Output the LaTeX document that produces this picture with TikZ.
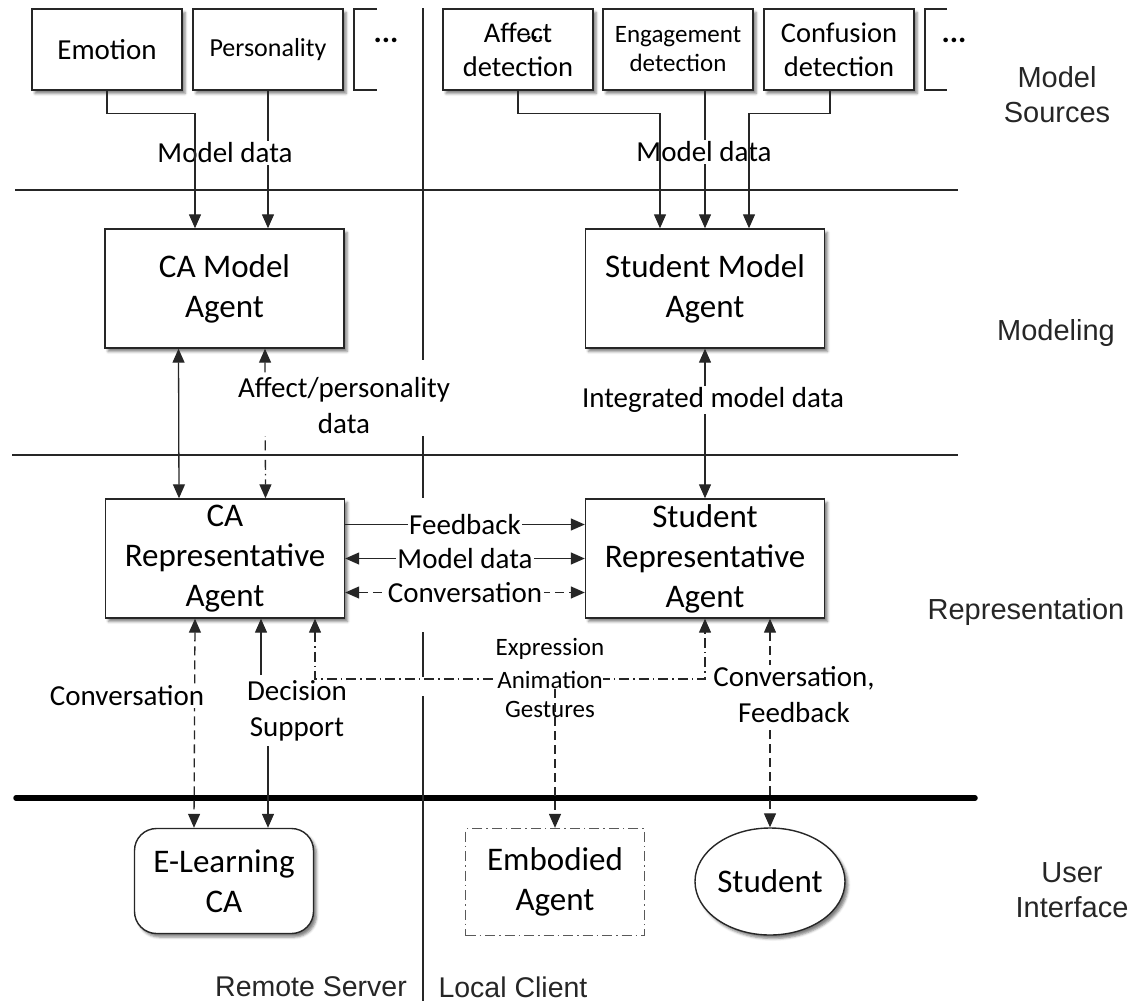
\documentclass[tikz,border=0pt]{standalone}
\usepackage{fontspec}
\setmainfont{Carlito}
\newfontfamily\sidefont{Liberation Sans}
\usetikzlibrary{arrows.meta,shadows.blur,shapes.geometric}
\newcommand{\fsz}[2]{\fontsize{#1}{#2}\selectfont}

\begin{document}
\begin{tikzpicture}[x=1pt,y=-1pt,
  line/.style={draw=black!85, line width=1.3pt},
  arr/.style={line, -{Triangle[length=14pt,width=12pt]}},
  darr/.style={line, {Triangle[length=14pt,width=12pt]}-{Triangle[length=14pt,width=12pt]}},
  dsh/.style={dash pattern=on 9pt off 5pt},
  ddot/.style={dash pattern=on 10pt off 4pt on 1.5pt off 4pt},
  boxshadow/.style={blur shadow={shadow xshift=3pt,shadow yshift=-3.5pt,shadow blur radius=2.5pt,shadow opacity=50}},
  src/.style={draw=black!85, line width=1.4pt, fill=white, minimum width=150pt,
              minimum height=81pt, inner sep=0pt, align=center, boxshadow},
  agent/.style={src, minimum width=239pt, minimum height=119pt, font=\fsz{33}{40}},
  lab/.style={fill=white, inner sep=1.5pt, align=center, font=\fsz{29}{36}},
  small/.style={inner sep=0.5pt, align=center, font=\fsz{25}{30}},
  side/.style={align=center, font=\sidefont\fsz{29}{35}, text=black!85}
]
\useasboundingbox (0,0) rectangle (1135,1001);

% layer separators and the server/client divider
\draw[line] (15,190) -- (958,190);
\draw[line] (12,455) -- (958,455);
\draw[line width=5.5pt, line cap=round] (16,798) -- (975,798);
\draw[line] (423,8) -- (423,360);
\draw[line] (423,430) -- (423,498);
\draw[line] (423,632) -- (423,677);
\draw[line] (423,696) -- (423,1001);

% model sources
\node[src, font=\fsz{29}{35}] (emo) at (107,49.5) {Emotion};
\node[src, font=\fsz{26}{31}] (pers) at (268,49.5) {Personality};
\draw[line] (377,9) -- (354,9) -- (354,90) -- (377,90);
\node[font=\fsz{31}{35}\bfseries] (dotsA) at (386,40) {...};

\node[src, font=\fsz{28.5}{34}] (aff) at (518,49.5) {Affect\\detection};
\node[font=\fsz{22}{26}\bfseries] (dotsB) at (535,38) {...};
\node[src, font=\fsz{25}{29}] (eng) at (678,49.5) {Engagement\\detection};
\node[src, font=\fsz{28.5}{34}] (conf) at (839,49.5) {Confusion\\detection};
\draw[line] (947,9) -- (925,9) -- (925,90) -- (947,90);
\node[font=\fsz{31}{35}\bfseries] (dotsC) at (954,40) {...};

% modeling and representation agents
\node[agent] (camodel) at (224.5,288.5) {CA Model\\Agent};
\node[agent] (smodel) at (705,288.5) {Student Model\\Agent};
\node[agent] (carep) at (225,558.5) {CA\\Representative\\Agent};
\node[agent] (srep) at (705,558.5) {Student\\Representative\\Agent};

% user interface
\node[agent, rounded corners=22pt, minimum width=179pt, minimum height=105pt] (elearn) at (224,881) {E-Learning\\CA};
\node[draw=black!65, line width=1.3pt, ddot, minimum width=179pt, minimum height=107pt,
      align=center, font=\fsz{33}{40}] (embod) at (555,882) {Embodied\\Agent};
\node[ellipse, draw=black!85, line width=1.4pt, fill=white, minimum width=150pt,
      minimum height=107pt, inner sep=0pt, font=\fsz{33}{40}, boxshadow] (student) at (770,881.5) {Student};

% model data into the modeling agents
\draw[arr] (pers.south) -- (pers.south |- camodel.north);
\node[lab] (mdA) at (225,153) {Model data};
\draw[arr] (emo.south) -- ++(0,23) -| ([xshift=-29.5pt]camodel.north);

\draw[arr] (smodel.north |- eng.south) -- (smodel.north);
\node[lab] (mdB) at (704,152) {Model data};
\draw[arr] (aff.south) -- ++(0,23) -| ([xshift=-45pt]smodel.north);
\draw[arr] ([xshift=-9pt]conf.south) -- ++(0,23) -| ([xshift=44pt]smodel.north);

% modeling <-> representation
\draw[darr] ([xshift=-46pt]camodel.south) -- ([xshift=-46pt]carep.north);
\draw[darr, ddot] ([xshift=40.5pt]camodel.south) -- ([xshift=40.5pt]carep.north);
\node[lab] (apd) at (344,406) {Affect/personality\\data};
\draw[darr] (smodel.south) -- (srep.north);
\node[lab] (imd) at (713,400) {Integrated model data};

% between the representative agents
\draw[arr] ([yshift=34pt]carep.east) -- node[lab] (fb) {Feedback} ([yshift=34pt]srep.west);
\draw[darr] (carep.east) -- node[lab] (mdC) {Model data} (srep.west);
\draw[darr, dsh] ([yshift=-34pt]carep.east) -- node[lab] (cv) {Conversation} ([yshift=-34pt]srep.west);

% representation <-> user interface
\draw[darr, dsh] ([xshift=-30pt]carep.south) -- ([xshift=-30pt]elearn.north);
\node[lab] (conv) at (127,696) {Conversation};
\node[lab] (dec) at (297,711) {Decision\\Support};
\coordinate (dtop) at (261,675);
\coordinate (dbot) at (268,746);
\draw[arr] (dtop) -- (dtop |- carep.south);
\draw[arr] (dbot) -- (dbot |- elearn.north);

\coordinate (jn) at (555,679);
\draw[darr, ddot] ([xshift=90pt]carep.south) |- (jn -| srep.south) -- (srep.south);
\node[small, fill=white] (anim) at (550,680) {Animation};
\node[small] (expr) at (550,649) {Expression};
\node[small] (gest) at (550,709) {Gestures};
\draw[arr, dsh] (anim.south -| embod.north) -- (embod.north);

\draw[darr, dsh] (srep.south -| student.north) -- (student.north);
\node[lab] (cf) at (794,695) {Conversation,\\Feedback};

% layer names and sides
\node[side] (lsrc) at (1057,95) {Model\\Sources};
\node[side] (lmod) at (1056,333) {Modeling};
\node[side] (lrep) at (1026,612) {Representation};
\node[side] (lui) at (1072,890) {User\\Interface};
\node[font=\sidefont\fsz{28.5}{32}, text=black!85] (remote) at (311,987) {Remote Server};
\node[font=\sidefont\fsz{28.5}{32}, text=black!85] (local) at (513,987) {Local Client};
\end{tikzpicture}
\end{document}
